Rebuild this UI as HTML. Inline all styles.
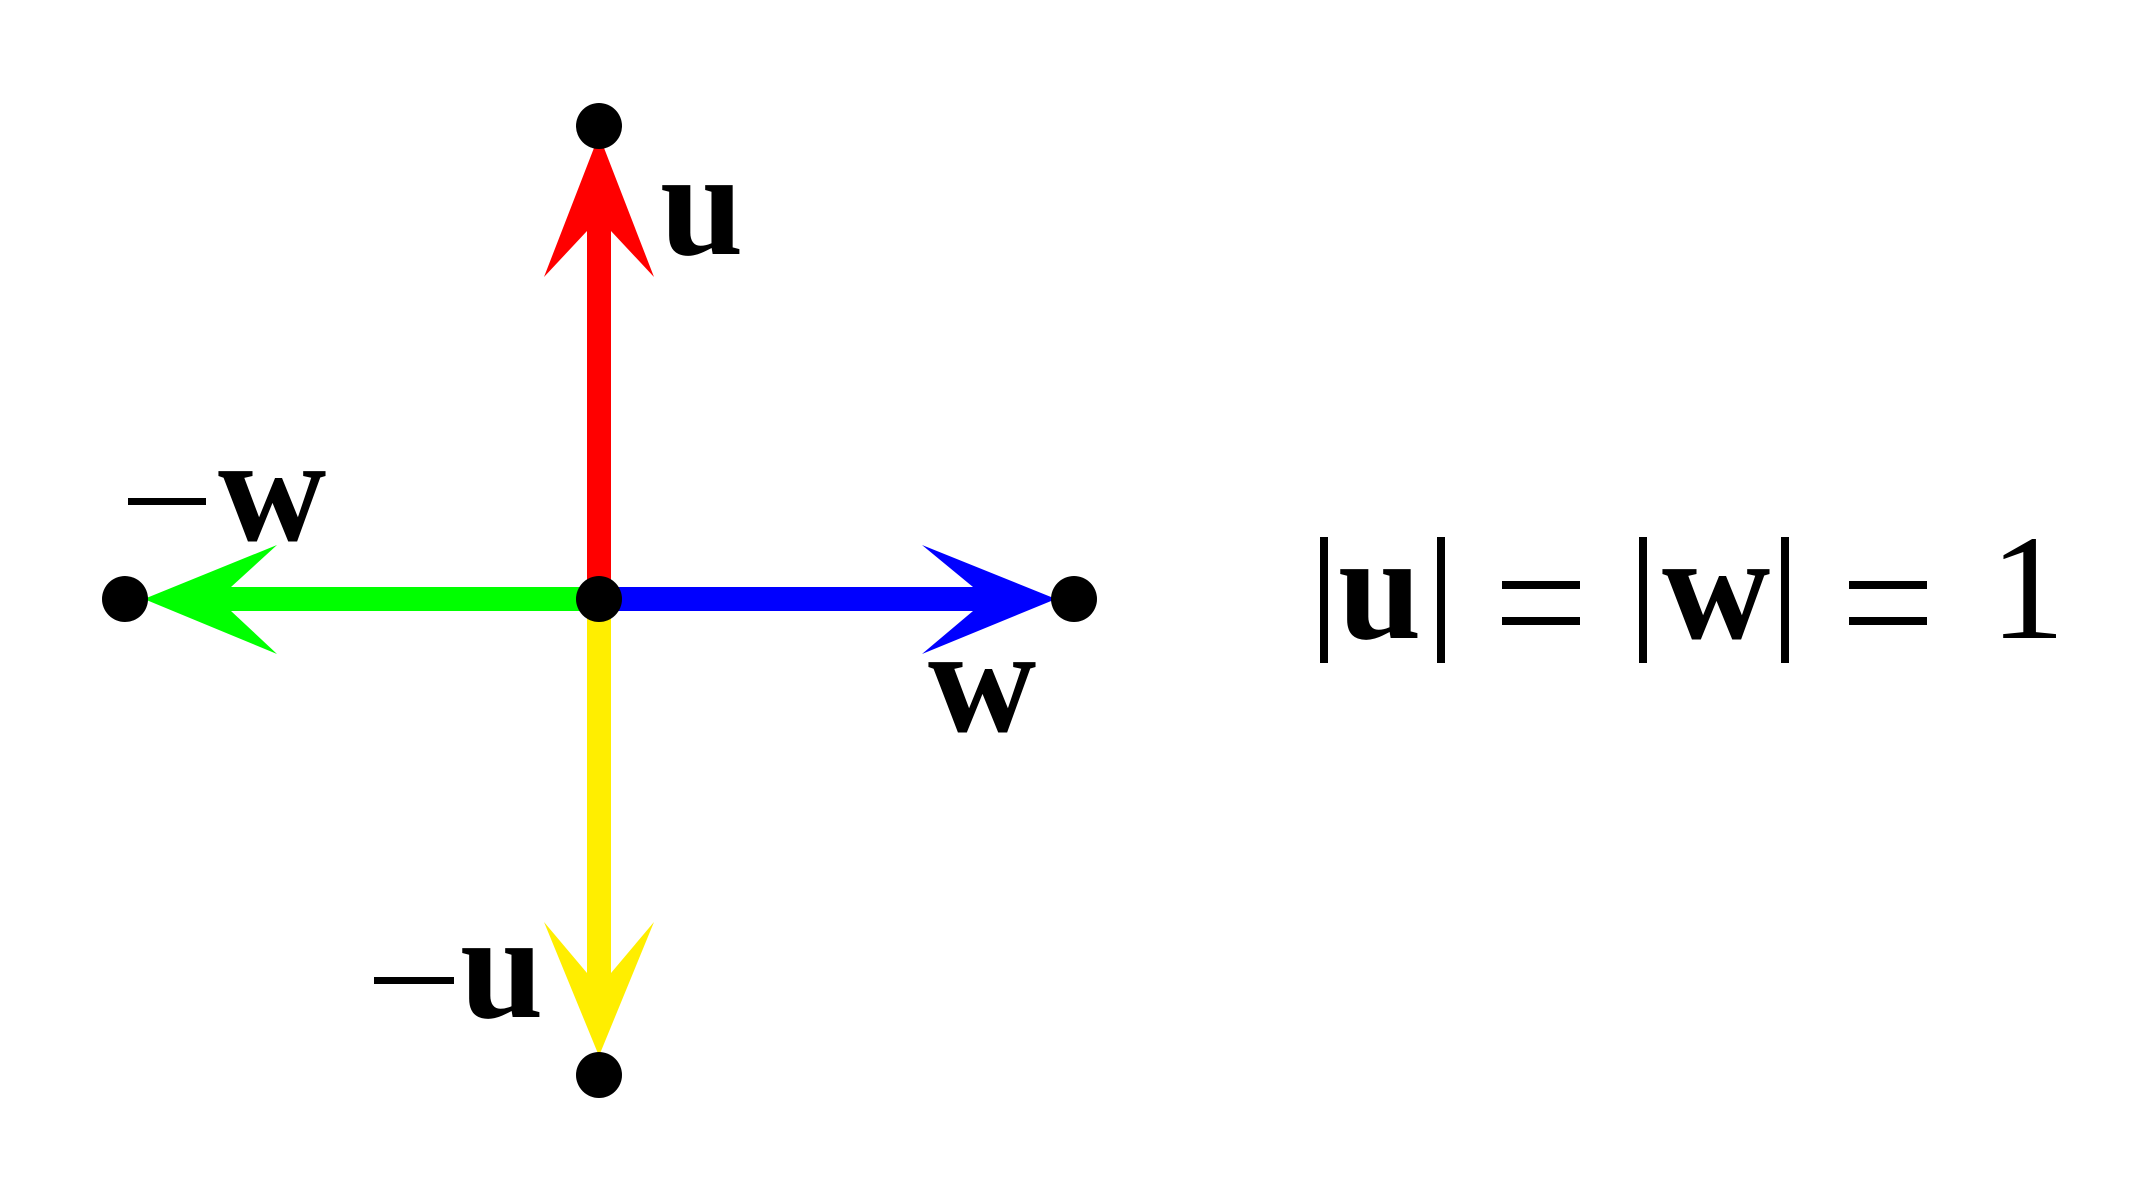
<!DOCTYPE html>
<html><head><meta charset="utf-8"><style>
html,body{margin:0;padding:0;background:#fff;}
svg{display:block;}
text{font-family:"Liberation Serif","Times New Roman","Noto Serif CJK SC",serif;}
</style></head><body>
<svg width="2143" height="1198" viewBox="0 0 2143 1198" xmlns="http://www.w3.org/2000/svg">
<rect width="2143" height="1198" fill="#fff"/>
<rect x="587" y="223" width="24" height="375" fill="#ff0000"/>
<rect x="587" y="598" width="24" height="380" fill="#ffee00"/>
<rect x="223" y="587" width="375" height="24" fill="#00ff00"/>
<rect x="598" y="587" width="380" height="24" fill="#0000ff"/>
<polygon points="599,135 654,277 611,231 587,231 544,277" fill="#ff0000"/>
<polygon points="599,1056 654,922 611,973 587,973 544,922" fill="#ffee00"/>
<polygon points="144,599 277,545 231,587 231,611 277,654" fill="#00ff00"/>
<polygon points="1056,599 922,545 973,587 973,611 922,654" fill="#0000ff"/>
<circle cx="599" cy="126" r="23" fill="#000"/>
<circle cx="599" cy="1075" r="23" fill="#000"/>
<circle cx="125" cy="599" r="23" fill="#000"/>
<circle cx="1074" cy="599" r="23" fill="#000"/>
<circle cx="599" cy="599" r="23" fill="#000"/>
<g font-weight="bold" font-size="150" fill="#000">
<text x="660" y="254">u</text>
<text x="218" y="540">w</text>
<text x="928" y="731">w</text>
<text x="460" y="1017">u</text>
<text x="1338" y="638">u</text>
<text x="1662" y="638">w</text>
</g>
<rect x="128" y="498" width="78" height="7" fill="#000"/>
<rect x="374" y="977" width="80" height="7" fill="#000"/>
<rect x="1320" y="537" width="8" height="126" fill="#000"/>
<rect x="1437" y="537" width="8" height="126" fill="#000"/>
<rect x="1639" y="537" width="8" height="126" fill="#000"/>
<rect x="1781" y="537" width="8" height="126" fill="#000"/>
<rect x="1502" y="581" width="78" height="8" fill="#000"/>
<rect x="1502" y="617" width="78" height="8" fill="#000"/>
<rect x="1849" y="581" width="78" height="8" fill="#000"/>
<rect x="1849" y="617" width="78" height="8" fill="#000"/>
<text x="1990" y="638" font-size="150" fill="#000">1</text>
</svg>
</body></html>
